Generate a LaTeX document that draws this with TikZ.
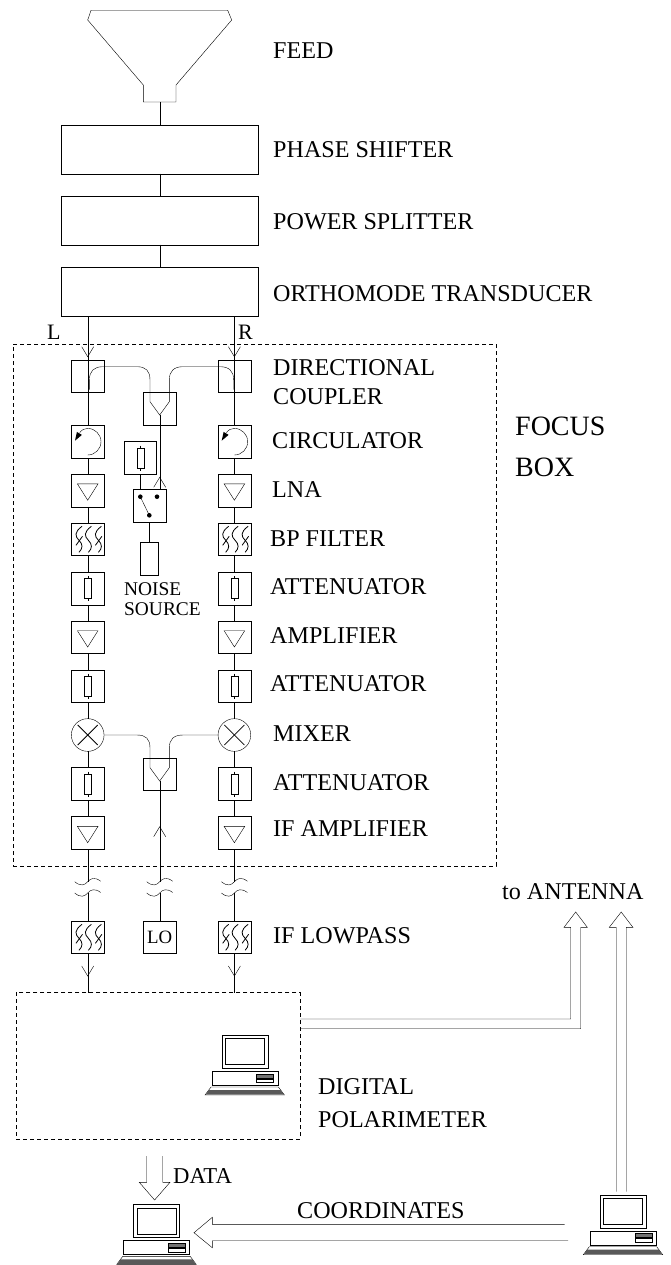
\documentclass[tikz,border=0pt]{standalone}
\usepackage{fontspec}
\setmainfont{Liberation Serif}
\newcommand{\lblfont}{\fontsize{24.1}{26}\selectfont}
\tikzset{
  x=1pt,y=-1pt,
  line width=1pt,
  blk/.style={draw,minimum size=32.7pt,inner sep=0pt,outer sep=0pt},
  wide/.style={draw,minimum width=197pt,minimum height=48.7pt,inner sep=0pt,outer sep=0pt},
  lbl/.style={anchor=base west,inner sep=0pt,font=\lblfont},
  small/.style={anchor=base west,inner sep=0pt,font=\fontsize{19.4}{22}\selectfont},
  big/.style={anchor=base west,inner sep=0pt,font=\fontsize{28}{30}\selectfont},
  focus/.style={draw,dash pattern=on 4pt off 3pt,line width=0.8pt},
  pics/ampsym/.style={code={\draw (-10.3,-6.6) -- (10.3,-6.6) -- (0,9.7) -- cycle;}},
  pics/attsym/.style={code={\draw (-3.5,-10) rectangle (3.5,10);\draw (0,-12.5) -- (0,-10) (0,10) -- (0,12.5);}},
  pics/chevdown/.style={code={\draw (-6,-10) -- (0,0) -- (6,-10);}},
  pics/chevup/.style={code={\draw (-6,10) -- (0,0) -- (6,10);}},
  pics/brk/.style={code={\draw (-13,0) .. controls (-7,5) and (-3,3.5) .. (0,0) .. controls (3,-3.5) and (7,-5) .. (13,-0.5);}},
  pics/circsym/.style={code={
    \draw (0,13.3) .. controls (7.3,13.3) and (13.3,7.3) .. (13.3,0) .. controls (13.3,-7.3) and (7.3,-13.3) .. (0,-13.3) .. controls (-3,-13.3) and (-6,-12) .. (-8,-9);
    \fill (-12.7,-1) -- (-10.8,-9.8) -- (-5.8,-6.8) -- cycle;}},
  pics/filtsym/.style={code={
    \foreach \c/\s in {-8.7/1,0.7/0,10.7/1}{
      \draw[line width=0.8pt] (\c+3,-13) .. controls (\c-5,-7) and (\c-4,-3) .. (\c,1) .. controls (\c+4,5) and (\c+4,9) .. (\c,13);
      \ifnum\s=1 \draw[line width=0.8pt] (\c-3,6) -- (\c+3.5,-3); \fi
    }}},
  pics/pc/.style={code={
    \draw (0,0) rectangle (46,33);
    \draw (3.5,3.5) rectangle (42.5,29.5);
    \draw (-10,36) rectangle (56,50);
    \draw[fill=black!55,line width=0.5pt] (35,39) rectangle (52,43);
    \draw[line width=0.5pt] (35,43.8) rectangle (52,47.5);
    \draw (-10.7,52) -- (56.7,52) -- (62.7,60) -- (-16.7,60) -- cycle;
    \fill[black!65] (-13,55) -- (59,55) -- (62,59.7) -- (-16,59.7) -- cycle;
  }},
}
\begin{document}
\begin{tikzpicture}
\useasboundingbox (0,0) rectangle (670,1265);

% upper chain
\coordinate (hornT) at (159.7,102);
\draw (91,10.3) -- (227.7,10.3) -- (231.7,20) -- (176,85) -- (176,102) -- (143.3,102) -- (143.3,85) -- (87.7,20) -- cycle;
\node[wide] (ps) at (159.7,149.4) {};
\node[wide] (pw) at (159.7,220.4) {};
\node[wide] (om) at (159.7,291.7) {};
\draw (hornT) -- (ps);
\draw (ps) -- (pw);
\draw (pw) -- (om);

% focus box
\node[focus,minimum width=483pt,minimum height=522pt,inner sep=0pt] (fb) at (254.5,605) {};
\node[focus,minimum width=284pt,minimum height=146.4pt,inner sep=0pt] (dp) at (158,1066) {};

% left chain
\foreach \n/\px in {L/87.7,R/234.4}{
  \node[blk] (dc\n) at (\px,376.3) {};
  \node[blk] (ci\n) at (\px,441.7) {};
  \node[blk] (ln\n) at (\px,490.5) {};
  \node[blk] (bp\n) at (\px,539.3) {};
  \node[blk] (a1\n) at (\px,588.5) {};
  \node[blk] (am\n) at (\px,637.3) {};
  \node[blk] (a2\n) at (\px,686.2) {};
  \node[draw,circle,minimum size=32.7pt,inner sep=0pt,outer sep=0pt] (mx\n) at (\px,735) {};
  \node[blk] (a3\n) at (\px,784) {};
  \node[blk] (if\n) at (\px,833) {};
  \coordinate (wa\n) at (\px,881.7);
  \coordinate (wb\n) at (\px,893);
  \node[blk] (lp\n) at (\px,937.3) {};
  \coordinate (om\n) at (\px,316);
  \coordinate (dp\n) at (\px,992.8);
  \draw (om\n) -- (dc\n.north);
  \draw (dc\n.north) -- (ci\n.north);
  \draw (ci\n) -- (ln\n);
  \draw (ln\n) -- (bp\n);
  \draw (bp\n) -- (a1\n);
  \draw (a1\n) -- (am\n);
  \draw (am\n) -- (a2\n);
  \draw (a2\n) -- (mx\n);
  \draw (mx\n) -- (a3\n);
  \draw (a3\n) -- (if\n);
  \draw (if\n.south) -- (wa\n);
  \draw (wb\n) -- (lp\n.north);
  \draw (lp\n.south) -- (dp\n);
  \path (\px,356.7) pic {chevdown};
  \path (ci\n) pic {circsym};
  \path (ln\n) pic {ampsym};
  \path (bp\n) pic {filtsym};
  \path (a1\n) pic {attsym};
  \path (am\n) pic {ampsym};
  \path (a2\n) pic {attsym};
  \draw[line width=0.8pt] ([shift={(-10,-10)}]mx\n.center) -- ([shift={(10,10)}]mx\n.center);
  \draw[line width=0.8pt] ([shift={(-10,10)}]mx\n.center) -- ([shift={(10,-10)}]mx\n.center);
  \path (a3\n) pic {attsym};
  \path (if\n) pic {ampsym};
  \path (wa\n) pic {brk};
  \path (wb\n) pic {brk};
  \path (lp\n) pic {filtsym};
  \path (\px,976) pic {chevdown};
}

% centre chain
\node[blk] (yu) at (159.7,409) {};
\node[blk] (yl) at (159.7,774.3) {};
\node[blk] (na) at (140.2,458) {};
\node[blk] (sw) at (149.5,505.7) {};
\node[draw,minimum width=17.4pt,minimum height=32.4pt,inner sep=0pt,outer sep=0pt] (ns) at (149,558.5) {};
\node[blk,font=\fontsize{18.8}{20}\selectfont] (lo) at (159.7,937.3) {LO};
\coordinate (wac) at (159.7,881.7);
\coordinate (wbc) at (159.7,893);
\coordinate (ytipu) at (159.7,415);
\coordinate (ytipl) at (159.7,781);
\coordinate (swin) at (159.7,489.3);
\path (na) pic {attsym};
\path (159.7,477.3) pic {chevup};
\path (159.7,826.7) pic {chevup};
\path (wac) pic {brk};
\path (wbc) pic {brk};

\draw (ytipu) -- (swin);
\draw (na.south) -- (na.south |- sw.north);
\draw (sw.south) -- (sw.south -| ns.north);
\draw (ytipl) -- (wac);
\draw (wbc) -- (lo.north);
\draw (sw.south -| ns.north) -- (ns.north);

% switch
\coordinate (s1) at (140.3,496.7);
\coordinate (s2) at (157,496.7);
\coordinate (s3) at (149.3,515.3);
\fill (s1) circle[radius=2.3] (s2) circle[radius=2.3] (s3) circle[radius=2.3];
\draw (s1) -- (s3);

% coupler curves
\draw (89.4,389.5) -- (89.4,380) .. controls (89.4,371) and (94,366.7) .. (103,366.7) -- (137,366.7) .. controls (146,366.7) and (150,371) .. (150,380) -- (150,401.7) -- (ytipu) -- (169.3,401.7) -- (169.3,380) .. controls (169.3,371) and (174,366.7) .. (183,366.7) -- (220,366.7) .. controls (229,366.7) and (233.7,371) .. (233.7,380) -- (233.7,389.5);
% mixer curves
\draw (mxL.east) -- (137,735) .. controls (146,735) and (150,739) .. (150,748) -- (150,767.7) -- (ytipl) -- (169.3,767.7) -- (169.3,748) .. controls (169.3,739) and (174,735) .. (183,735) -- (mxR.west);

% computers and wide arrows
\coordinate (pc1) at (221.7,1035);
\coordinate (pc2) at (133.5,1204.3);
\coordinate (pc3) at (600,1194.7);
\path (pc1) pic {pc};
\path (pc2) pic {pc};
\path (pc3) pic {pc};

\coordinate (a1a) at (dp.east |- 0,1019);
\coordinate (a1b) at (dp.east |- 0,1028.7);
\draw (a1a) -- (570.7,1019) -- (570.7,927.3) -- (564,927.3) -- (575.7,912) -- (587.3,927.3) -- (580.7,927.3) -- (580.7,1028.7) -- (a1b);
\draw (616.2,1191.5) -- (616.2,927.3) -- (609.3,927.3) -- (621.2,912) -- (632.9,927.3) -- (626.2,927.3) -- (626.2,1191.5);
\draw (146.7,1156) -- (146.7,1182.3) -- (139.3,1182.3) -- (154.6,1200) -- (170,1182.3) -- (162.7,1182.3) -- (162.7,1156);
\draw (564.5,1224.3) -- (212.3,1224.3) -- (212.3,1217.3) -- (194,1232.7) -- (212.3,1247.7) -- (212.3,1240.7) -- (568,1240.7);

% labels
\node[lbl] (t1) at (273,59) {FEED};
\node[lbl] (t2) at (273,158) {PHASE SHIFTER};
\node[lbl] (t3) at (273,230) {POWER SPLITTER};
\node[lbl] (t4) at (273,301) {ORTHOMODE TRANSDUCER};
\node[lbl] (t5) at (273,375) {DIRECTIONAL};
\node[lbl] (t6) at (273,404) {COUPLER};
\node[lbl] (t7) at (272,448) {CIRCULATOR};
\node[lbl] (t8) at (272,497) {LNA};
\node[lbl] (t9) at (270,546) {BP FILTER};
\node[lbl] (t10) at (270,594) {ATTENUATOR};
\node[lbl] (t11) at (270,643) {AMPLIFIER};
\node[lbl] (t12) at (270,691) {ATTENUATOR};
\node[lbl] (t13) at (273,741) {MIXER};
\node[lbl] (t14) at (273,790) {ATTENUATOR};
\node[lbl] (t15) at (273,836) {IF AMPLIFIER};
\node[lbl] (t16) at (273,943) {IF LOWPASS};
\node[lbl] (t17) at (318,1094) {DIGITAL};
\node[lbl] (t18) at (318,1127) {POLARIMETER};
\node[big] (t19) at (515,435) {FOCUS};
\node[big] (t20) at (515,476) {BOX};
\node[lbl] (t21) at (502,899) {to ANTENNA};
\node[lbl,font=\fontsize{22.7}{24}\selectfont] (t22) at (173,1183) {DATA};
\node[lbl,font=\fontsize{24.1}{26}\selectfont] (t23) at (297,1218) {COORDINATES};
\node[small] (t24) at (124,595) {NOISE};
\node[small] (t25) at (124,615) {SOURCE};
\node[lbl,font=\fontsize{22}{24}\selectfont] (t26) at (47,339) {L};
\node[lbl,font=\fontsize{22}{24}\selectfont] (t27) at (238,339) {R};
\end{tikzpicture}
\end{document}
